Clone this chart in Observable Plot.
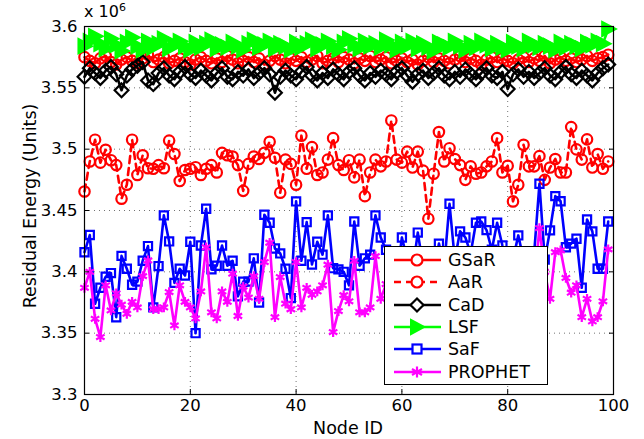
<!DOCTYPE html>
<html><head><meta charset="utf-8">
<script src="https://cdn.jsdelivr.net/npm/d3@7"></script>
<script src="https://cdn.jsdelivr.net/npm/@observablehq/plot@0.6"></script>
<style>
body{margin:0;background:#fff;font-family:"DejaVu Sans",sans-serif;}
#wrap{position:relative;width:644px;height:439px;overflow:hidden}
#expo{position:absolute;left:84px;top:1px;font-size:16px;color:#000}
#expo sup{font-size:11px}
#ylab{position:absolute;left:30px;top:206px;font-size:17.5px;white-space:nowrap;transform:translate(-50%,-50%) rotate(-90deg)}
#xlab{position:absolute;left:348px;top:428px;font-size:17.5px;white-space:nowrap;transform:translate(-50%,-50%)}
#legend{position:absolute;left:384px;top:246px;width:164px;height:139px;border:1px solid #000;background:#fff;box-sizing:border-box}
.li{position:absolute;left:0;height:22px;width:162px}
.li svg{position:absolute;left:8px;top:0}
.li span{position:absolute;left:63px;top:0px;font-size:17.5px;line-height:20px}
</style></head><body><div id="wrap"><div id="expo">x 10<sup>6</sup></div><div id="ylab">Residual Energy (Units)</div><div id="xlab">Node ID</div></div>
<script>
const nodeIds = d3.range(0, 100);
const seriesNames = ["GSaR", "AaR", "CaD", "LSF", "SaF", "PROPHET"];
const xTicks = [0, 20, 40, 60, 80, 100];
const yTicks = [3.3, 3.35, 3.4, 3.45, 3.5, 3.55, 3.6];

const gsar = [3.575,3.572,3.570,3.574,3.576,3.571,3.569,3.573,3.575,3.572,3.570,3.574,3.577,3.571,3.573,3.575,3.570,3.572,3.574,3.571,
3.569,3.573,3.575,3.572,3.570,3.574,3.571,3.576,3.573,3.570,3.572,3.575,3.571,3.574,3.569,3.572,3.576,3.573,3.570,3.574,
3.572,3.575,3.571,3.573,3.576,3.570,3.572,3.574,3.571,3.575,3.573,3.570,3.574,3.572,3.576,3.571,3.573,3.575,3.570,3.572,
3.574,3.571,3.573,3.569,3.572,3.575,3.571,3.574,3.572,3.570,3.573,3.576,3.571,3.574,3.572,3.569,3.573,3.575,3.571,3.574,
3.572,3.570,3.573,3.575,3.571,3.574,3.572,3.576,3.570,3.573,3.575,3.572,3.574,3.571,3.573,3.576,3.572,3.574,3.575,3.577];

const aar = [3.4655,3.490,3.5077,3.489,3.4995,3.491,3.487,3.4596,3.471,3.5077,3.479,3.495,3.4845,3.484,3.487,3.4845,3.507,3.496,3.474,3.483,
3.484,3.4853,3.479,3.484,3.487,3.481,3.497,3.495,3.494,3.487,3.466,3.488,3.494,3.492,3.497,3.506,3.493,3.4645,3.4915,3.488,
3.471,3.511,3.484,3.5017,3.479,3.481,3.4915,3.509,3.487,3.483,3.491,3.477,3.4915,3.4617,3.481,3.4915,3.486,3.490,3.5234,3.4915,
3.489,3.498,3.485,3.498,3.4825,3.4433,3.480,3.514,3.490,3.5008,3.492,3.487,3.475,3.486,3.480,3.481,3.486,3.490,3.509,3.481,
3.4865,3.4574,3.471,3.5036,3.486,3.486,3.4943,3.475,3.485,3.492,3.481,3.481,3.518,3.4998,3.4915,3.508,3.485,3.496,3.484,3.490];

const cad = [3.559,3.566,3.562,3.558,3.564,3.567,3.561,3.548,3.560,3.565,3.568,3.571,3.556,3.553,3.562,3.566,3.560,3.557,3.563,3.567,
3.561,3.558,3.564,3.560,3.556,3.562,3.566,3.559,3.557,3.563,3.560,3.565,3.558,3.562,3.566,3.561,3.546,3.559,3.564,3.560,
3.557,3.563,3.567,3.560,3.556,3.562,3.558,3.565,3.561,3.557,3.563,3.566,3.560,3.556,3.562,3.559,3.564,3.561,3.557,3.563,
3.566,3.560,3.555,3.561,3.564,3.558,3.562,3.566,3.560,3.557,3.563,3.559,3.565,3.561,3.557,3.562,3.566,3.560,3.558,3.563,
3.549,3.561,3.565,3.559,3.563,3.558,3.562,3.566,3.560,3.557,3.563,3.567,3.561,3.558,3.564,3.560,3.556,3.562,3.566,3.569];

const lsf = [3.584,3.588,3.592,3.586,3.582,3.590,3.585,3.580,3.587,3.591,3.584,3.581,3.588,3.583,3.586,3.590,3.582,3.585,3.588,3.584,
3.581,3.587,3.583,3.586,3.589,3.582,3.585,3.583,3.587,3.584,3.581,3.586,3.589,3.583,3.585,3.588,3.582,3.586,3.584,3.581,
3.587,3.583,3.586,3.589,3.582,3.585,3.588,3.584,3.581,3.587,3.590,3.585,3.582,3.588,3.584,3.586,3.583,3.589,3.585,3.581,
3.587,3.584,3.588,3.582,3.586,3.583,3.580,3.587,3.585,3.583,3.588,3.584,3.581,3.586,3.583,3.588,3.585,3.582,3.586,3.583,
3.581,3.587,3.584,3.582,3.588,3.585,3.583,3.586,3.584,3.581,3.587,3.583,3.586,3.584,3.582,3.587,3.585,3.588,3.586,3.598];

const saf = [3.416,3.430,3.374,3.387,3.396,3.399,3.363,3.413,3.4025,3.3895,3.392,3.409,3.421,3.371,3.4047,3.446,3.4248,3.391,3.4025,3.397,
3.4245,3.350,3.4215,3.4514,3.402,3.405,3.4215,3.405,3.409,3.380,3.392,3.392,3.411,3.375,3.4465,3.440,3.419,3.415,3.4025,3.3786,
3.4574,3.409,3.4405,3.406,3.4245,3.414,3.446,3.403,3.402,3.400,3.389,3.441,3.405,3.411,3.414,3.446,3.428,3.418,3.405,3.395,
3.428,3.410,3.400,3.432,3.405,3.415,3.400,3.423,3.405,3.4555,3.410,3.433,3.428,3.415,3.440,3.441,3.434,3.418,3.440,3.4215,
3.405,3.410,3.4297,3.410,3.400,3.415,3.4718,3.410,3.4338,3.4617,3.4575,3.420,3.423,3.427,3.387,3.4427,3.433,3.4025,3.4025,3.441];

const prophet = [3.387,3.400,3.3617,3.3468,3.389,3.3685,3.3825,3.3732,3.3658,3.3755,3.371,3.3965,3.4093,3.3695,3.3695,3.371,3.3835,3.3563,3.389,3.3755,
3.371,3.362,3.384,3.420,3.367,3.362,3.384,3.3755,3.3985,3.364,3.388,3.379,3.3965,3.378,3.408,3.4237,3.363,3.3957,3.374,3.3695,
3.408,3.371,3.387,3.3813,3.384,3.389,3.4058,3.3509,3.368,3.381,3.376,3.409,3.367,3.367,3.371,3.4128,3.378,3.390,3.372,3.385,
3.400,3.378,3.365,3.392,3.380,3.370,3.395,3.385,3.375,3.400,3.382,3.370,3.390,3.378,3.400,3.385,3.372,3.390,3.380,3.368,
3.395,3.380,3.370,3.390,3.375,3.390,3.4357,3.400,3.378,3.416,3.4175,3.395,3.383,3.389,3.363,3.378,3.3596,3.363,3.376,3.4183];

const values = [gsar, aar, cad, lsf, saf, prophet];
const colors = ["#ff0000", "#ff0000", "#000000", "#00ff00", "#0000ff", "#ff00ff"];

const triRight = {draw(ctx, size) {const r = Math.sqrt(size / Math.PI); ctx.moveTo(r * 1.05, 0); ctx.lineTo(-r * 0.85, -r); ctx.lineTo(-r * 0.85, r); ctx.closePath();}};
const style = [
  {symbol: "circle", r: 5.2, fill: "none", dash: null},
  {symbol: "circle", r: 5.2, fill: "none", dash: "7,5"},
  {symbol: "diamond2", r: 6.2, fill: "none", dash: null},
  {symbol: triRight, r: 7, fill: "#00ff00", dash: null},
  {symbol: "square", r: 4.6, fill: "none", dash: null},
  {symbol: "asterisk", r: 4.6, fill: "none", dash: null}
];

const marks = [
  Plot.gridY(yTicks, {stroke: "#000", strokeOpacity: 0.55, strokeDasharray: "1,4"}),
  Plot.gridX(xTicks, {stroke: "#000", strokeOpacity: 0.55, strokeDasharray: "1,4"})
];
seriesNames.forEach((name, k) => {
  const data = nodeIds.map((n, i) => ({node: n, value: values[k][i], series: name}));
  const s = style[k];
  marks.push(Plot.line(data, {x: "node", y: "value", stroke: colors[k], strokeWidth: 2.6, strokeDasharray: s.dash}));
  marks.push(Plot.dot(data, {x: "node", y: "value", symbol: s.symbol, r: s.r, stroke: colors[k], fill: s.fill, strokeWidth: 2.2}));
});
marks.push(Plot.frame({stroke: "#000", strokeWidth: 1.2}));
marks.push(Plot.axisY(yTicks, {anchor: "left", tickSize: -5, tickPadding: 12, tickFormat: d => String(+d.toFixed(2)), fontSize: 16.5, label: null}));
marks.push(Plot.axisY(yTicks, {anchor: "right", tickSize: -5, tickFormat: () => "", label: null}));
marks.push(Plot.axisX(xTicks, {anchor: "bottom", tickSize: -5, tickPadding: 10, fontSize: 16.5, label: null}));
marks.push(Plot.axisX(xTicks, {anchor: "top", tickSize: -5, tickFormat: () => "", label: null}));

const chart = Plot.plot({
  width: 644, height: 439,
  marginLeft: 84, marginRight: 31, marginTop: 26, marginBottom: 45,
  style: {fontFamily: "DejaVu Sans, sans-serif", fontSize: "16.5px", color: "#000", background: "#fff"},
  x: {domain: [0, 100], label: null},
  y: {domain: [3.3, 3.6], label: null},
  marks
});
document.getElementById("wrap").prepend(chart);

// legend overlay
const leg = document.createElement("div");
leg.id = "legend";
const symSvg = [
  '<circle cx="24" cy="10" r="5.5" fill="white" stroke="#ff0000" stroke-width="2.2"/>',
  '<circle cx="24" cy="10" r="5.5" fill="white" stroke="#ff0000" stroke-width="2.2"/>',
  '<path d="M24 3.5 L30.5 10 L24 16.5 L17.5 10Z" fill="white" stroke="#000" stroke-width="2.2"/>',
  '<path d="M31 10 L18 3 L18 17Z" fill="#00ff00" stroke="#00ff00" stroke-width="2"/>',
  '<rect x="19.5" y="5.5" width="9" height="9" fill="white" stroke="#0000ff" stroke-width="2.2"/>',
  '<path d="M24 4.5V15.5M19 7L29 13M19 13L29 7" stroke="#ff00ff" stroke-width="2.2"/>'
];
seriesNames.forEach((name, k) => {
  const d = document.createElement("div");
  d.className = "li";
  d.style.top = (3 + k * 22.3) + "px";
  const dash = style[k].dash ? ` stroke-dasharray="${style[k].dash}"` : "";
  d.innerHTML = `<svg width="50" height="20"><line x1="1" y1="10" x2="48" y2="10" stroke="${colors[k]}" stroke-width="2.6"${dash}/>${symSvg[k]}</svg><span>${name}</span>`;
  leg.appendChild(d);
});
document.getElementById("wrap").appendChild(leg);
</script></body></html>
